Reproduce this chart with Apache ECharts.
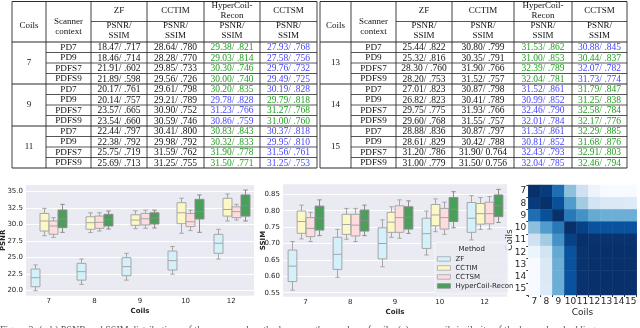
<!DOCTYPE html>
<html><head><meta charset="utf-8">
<script src="https://cdn.jsdelivr.net/npm/echarts@6/dist/echarts.min.js"></script>
<style>html,body{margin:0;padding:0;background:#fff}#c{width:640px;height:328px}</style>
</head><body><div id="c"></div><script>
// ---------- table data ----------
const scanners = ['PD7','PD9','PDFS7','PDFS9'];
const coilsLeft = ['7','9','11'];
const coilsRight = ['13','14','15'];
const zfLeft = ['18.47/ .717','18.46/ .714','21.91/ .602','21.89/ .598','20.17/ .761','20.14/ .757','23.57/ .665','23.54/ .660','22.44/ .797','22.38/ .792','25.75/ .719','25.69/ .713'];
const cctimLeft = ['28.64/ .780','28.28/ .770','29.85/ .733','29.56/ .726','29.61/ .798','29.21/ .789','30.90/ .752','30.59/ .746','30.41/ .800','29.98/ .792','31.59/ .762','31.25/ .755'];
const hyperLeft = ['29.38/ .821','29.03/ .814','30.30/ .746','30.00/ .740','30.20/ .835','29.78/ .828','31.23/ .766','30.86/ .759','30.83/ .843','30.32/ .833','31.90/ .778','31.50/ .771'];
const cctsmLeft = ['27.93/ .768','27.58/ .756','29.76/ .732','29.49/ .725','30.19/ .828','29.79/ .818','31.27/ .768','31.00/ .760','30.37/ .818','29.95/ .810','31.56/ .761','31.25/ .753'];
const hyperLeftRank = 'gggggbbbgggg';
const cctsmLeftRank = 'bbbbbgggbbbb';
const zfRight = ['25.44/ .822','25.32/ .816','28.30 / .760','28.20/ .753','27.01/ .823','26.82/ .823','29.75/ .775','29.60/ .768','28.88/ .836','28.61/ .829','31.20/ .786','31.00/ .779'];
const cctimRight = ['30.80/ .799','30.35/ .791','31.90/ .766','31.52/ .757','30.87/ .798','30.41/ .789','31.93/ .766','31.55/ .757','30.87/ .797','30.42/ .788','31.90/ 0.764','31.50/ 0.756'];
const hyperRight = ['31.53/ .862','31.00/ .853','32.39/ .789','32.04/ .781','31.52/ .861','30.99/ .852','32.46/ .790','32.01/ .784','31.35/ .861','30.81/ .852','32.43/ .793','32.04/ .785'];
const cctsmRight = ['30.88/ .845','30.44/ .837','32.07/ .782','31.73/ .774','31.79/ .847','31.25/ .838','32.58/ .784','32.17/ .776','32.29/ .885','31.68/ .876','32.91/ .803','32.46/ .794'];
const hyperRightRank = 'ggggbbbbbbbb';
const cctsmRightRank = 'bgbbgggggggg';

// ---------- box plot data: [min, q1, median, q3, max] per coil ----------
const boxCoils = ['7','8','9','10','12'];
const methods = ['ZF','CCTIM','CCTSM','HyperCoil-Recon'];
const psnrZF    = [[20.0,20.6,21.97,23.28,23.9],[20.96,21.6,22.88,24.14,24.8],[21.6,22.27,23.64,25.0,25.66],[22.5,23.13,24.55,26.0,26.7],[24.8,25.66,27.17,28.54,29.3]];
const psnrCCTIM = [[28.33,29.04,30.56,31.7,32.47],[28.8,29.3,30.3,31.2,31.8],[29.4,29.9,30.7,31.5,32.1],[28.7,30.15,31.8,33.33,34.0],[30.56,31.3,32.3,34.0,34.65]];
const psnrCCTSM = [[28.08,28.54,29.8,30.56,31.06],[29.04,29.44,30.35,31.3,31.8],[29.45,29.95,30.9,31.7,32.2],[29.1,29.7,30.45,31.7,32.2],[30.7,31.06,31.97,32.7,33.08]];
const psnrHyper = [[28.84,29.55,30.86,32.22,33.08],[29.34,29.8,30.76,31.57,32.07],[29.5,30.1,31.0,31.8,32.2],[28.84,30.86,31.97,33.84,34.5],[30.56,31.3,32.88,34.5,35.25]];
const ssimZF    = [[0.558,0.584,0.631,0.680,0.706],[0.597,0.621,0.667,0.719,0.743],[0.629,0.653,0.700,0.748,0.772],[0.665,0.685,0.730,0.777,0.799],[0.711,0.734,0.777,0.825,0.846]];
const ssimCCTIM = [[0.714,0.731,0.767,0.799,0.817],[0.713,0.728,0.758,0.789,0.807],[0.719,0.734,0.765,0.795,0.812],[0.736,0.754,0.787,0.819,0.836],[0.743,0.759,0.791,0.822,0.840]];
const ssimCCTSM = [[0.706,0.721,0.746,0.779,0.795],[0.706,0.723,0.756,0.789,0.807],[0.716,0.734,0.779,0.815,0.833],[0.728,0.744,0.779,0.807,0.826],[0.744,0.760,0.791,0.826,0.843]];
const ssimHyper = [[0.724,0.741,0.777,0.814,0.833],[0.724,0.738,0.770,0.802,0.817],[0.731,0.744,0.780,0.812,0.830],[0.748,0.767,0.804,0.840,0.858],[0.764,0.782,0.815,0.848,0.865]];
const psnrTicks = [20,22.5,25,27.5,30,32.5,35];
const ssimTicks = [0.55,0.6,0.65,0.7,0.75,0.8,0.85];

// ---------- heatmap data ----------
const heatCoils = ['7','8','9','10','11','12','13','14','15'];
const heatRow7  = [1.00,0.96,0.76,0.42,0.20,0.05,0.00,0.00,0.00];
const heatRow8  = [0.96,1.00,0.88,0.58,0.36,0.18,0.14,0.14,0.13];
const heatRow9  = [0.76,0.88,1.00,0.72,0.62,0.52,0.50,0.50,0.50];
const heatRow10 = [0.42,0.58,0.72,1.00,0.93,0.87,0.87,0.87,0.87];
const heatRow11 = [0.20,0.36,0.62,0.93,1.00,0.99,0.99,0.99,0.99];
const heatRow12 = [0.05,0.18,0.52,0.87,0.99,1.00,1.00,1.00,1.00];
const heatRow13 = [0.00,0.14,0.50,0.87,0.99,1.00,1.00,1.00,1.00];
const heatRow14 = [0.00,0.14,0.50,0.87,0.99,1.00,1.00,1.00,1.00];
const heatRow15 = [0.00,0.13,0.50,0.87,0.99,1.00,1.00,1.00,1.00];
const heatRows = [heatRow7,heatRow8,heatRow9,heatRow10,heatRow11,heatRow12,heatRow13,heatRow14,heatRow15];

// ---------- styles ----------
const boxFills = ['#d3f0fb','#fcf8c6','#fcdcdc','#4a9f5a'];
const boxEdges = ['#a6a6a6','#a6a6a6','#a6a6a6','#8c8c8c'];
const GREEN = '#1fa01f', BLUE = '#4545ff';
const SANS = 'DejaVu Sans', SERIF = 'Liberation Serif';

// ---------- table graphic ----------
function buildTable(cols, coils, zf, cctim, hyper, cctsm, hr, sr) {
  const els = [];
  const top = 1.5, hmid = 21.5, hbot = 42, rh = 10.5, bottom = hbot + 12 * rh;
  const L = cols[0], R = cols[6];
  const line = (x1, y1, x2, y2, w) => els.push({type:'line', silent:true, shape:{x1,y1,x2,y2}, style:{stroke:'#2b2b2b', lineWidth:w || 0.8}});
  const text = (t, x, y, size, color) => els.push({type:'text', silent:true, x, y, style:{text:t, fontSize:size, fontFamily:SERIF, fill:color || '#111', align:'center', verticalAlign:'middle'}});
  line(L, top, R, top, 1.1);
  line(cols[2], hmid, R, hmid);
  line(L, hbot, R, hbot, 1.1);
  for (let g = 0; g < 3; g++) {
    for (let r = 1; r < 4; r++) line(cols[1], hbot + g * 42 + r * rh, R, hbot + g * 42 + r * rh);
    if (g > 0) line(L, hbot + g * 42, R, hbot + g * 42, 1);
  }
  line(L, bottom, R, bottom, 1.1);
  cols.forEach(x => line(x, top, x, bottom, 0.9));
  const cx = i => (cols[i] + cols[i + 1]) / 2;
  text('Coils', cx(0), 26, 9);
  text('Scanner', cx(1), 21.7, 9);
  text('context', cx(1), 31.7, 9);
  text('ZF', cx(2), 11, 9);
  text('CCTIM', cx(3), 11, 9);
  text('HyperCoil-', cx(4), 6, 9);
  text('Recon', cx(4), 16, 9);
  text('CCTSM', cx(5), 11, 9);
  for (let i = 2; i < 6; i++) { text('PSNR/', cx(i), 25.5, 9); text('SSIM', cx(i), 36, 9); }
  for (let g = 0; g < 3; g++) {
    text(coils[g], cx(0), hbot + g * 42 + 21, 9);
    for (let r = 0; r < 4; r++) {
      const k = g * 4 + r, y = hbot + g * 42 + r * rh + rh / 2 + 0.3;
      text(scanners[r], cx(1), y, 9.2);
      text(zf[k], cx(2), y, 9.5);
      text(cctim[k], cx(3), y, 9.5);
      text(hyper[k], cx(4), y, 9.5, hr[k] === 'g' ? GREEN : BLUE);
      text(cctsm[k], cx(5), y, 9.5, sr[k] === 'g' ? GREEN : BLUE);
    }
  }
  return els;
}
const tableEls = [].concat(
  buildTable([12,46,91,147,204,260,317], coilsLeft, zfLeft, cctimLeft, hyperLeft, cctsmLeft, hyperLeftRank, cctsmLeftRank),
  buildTable([320,351,396,452,514,572,627], coilsRight, zfRight, cctimRight, hyperRight, cctsmRight, hyperRightRank, cctsmRightRank)
);

// ---------- box series ----------
function boxSeries(k, data, gi) {
  const fill = boxFills[k], edge = boxEdges[k];
  return {
    type:'custom', name:methods[k], xAxisIndex:gi, yAxisIndex:gi, z:2,
    itemStyle:{color:fill, borderColor:edge},
    data:data.map((d, i) => [i].concat(d)),
    renderItem(params, api) {
      const ci = api.value(0);
      const band = api.size([1, 0])[0];
      const w = band * 0.2 * 0.98;
      const off = (k - 1.5) * band * 0.2;
      const p = [1,2,3,4,5].map(j => api.coord([ci, api.value(j)]));
      const x = Math.round(p[0][0] + off) + 0.5;
      const ls = {stroke:edge, lineWidth:1};
      return {type:'group', children:[
        {type:'line', shape:{x1:x, y1:p[0][1], x2:x, y2:p[1][1]}, style:ls},
        {type:'line', shape:{x1:x, y1:p[3][1], x2:x, y2:p[4][1]}, style:ls},
        {type:'line', shape:{x1:x - w / 4, y1:p[0][1], x2:x + w / 4, y2:p[0][1]}, style:ls},
        {type:'line', shape:{x1:x - w / 4, y1:p[4][1], x2:x + w / 4, y2:p[4][1]}, style:ls},
        {type:'rect', shape:{x:x - w / 2, y:p[3][1], width:w, height:p[1][1] - p[3][1]}, style:{fill:fill, stroke:edge, lineWidth:1}},
        {type:'line', shape:{x1:x - w / 2, y1:p[2][1], x2:x + w / 2, y2:p[2][1]}, style:ls}
      ]};
    }
  };
}

const heatData = [];
heatRows.forEach((row, yi) => row.forEach((v, xi) => heatData.push([xi, yi, v])));

const labelStyle = {fontSize:7, fontFamily:SANS, color:'#262626'};
const nameStyle = {fontSize:7, fontFamily:SANS, fontWeight:'bold', color:'#262626'};

function boxXAxis(gi) {
  return {type:'category', gridIndex:gi, data:boxCoils, axisLine:{show:false}, axisTick:{show:false},
    splitLine:{show:false}, axisLabel:Object.assign({margin:2, interval:0}, labelStyle),
    name:'Coils', nameLocation:'middle', nameGap:11.5, nameTextStyle:nameStyle, nameMoveOverlap:false};
}
function boxYAxis(gi, min, max, ticks, digits, name, gap) {
  return {type:'value', gridIndex:gi, min, max, axisLine:{show:false},
    axisTick:{show:false, customValues:ticks},
    axisLabel:Object.assign({margin:3, customValues:ticks, formatter:v => Number(v).toFixed(digits)}, labelStyle),
    splitLine:{show:true, lineStyle:{color:'#ffffff', width:1}},
    name, nameLocation:'middle', nameGap:gap, nameTextStyle:nameStyle, nameMoveOverlap:false};
}
const heatLabel = {fontSize:9, fontFamily:SANS, color:'#262626', margin:2, interval:0, hideOverlap:false};

const option = {
  animation:false,
  backgroundColor:'#ffffff',
  grid:[
    {left:26, top:185, width:228, height:110.7, show:true, backgroundColor:'#eaeaf2', borderWidth:0, outerBoundsMode:'none', containLabel:false},
    {left:283, top:184.3, width:224, height:112.4, show:true, backgroundColor:'#eaeaf2', borderWidth:0, outerBoundsMode:'none', containLabel:false},
    {left:528.3, top:185, width:108.4, height:110, outerBoundsMode:'none', containLabel:false}
  ],
  xAxis:[
    boxXAxis(0), boxXAxis(1),
    {type:'category', gridIndex:2, data:heatCoils, axisLine:{show:false}, splitLine:{show:false},
      axisTick:{show:true, length:2, lineStyle:{color:'#333'}},
      axisLabel:heatLabel,
      name:'Coils', nameLocation:'middle', nameGap:13, nameMoveOverlap:false,
      nameTextStyle:{fontSize:9, fontFamily:SANS, color:'#262626'}}
  ],
  yAxis:[
    boxYAxis(0, 19.24, 36.01, psnrTicks, 1, 'PSNR', 19),
    boxYAxis(1, 0.5378, 0.8805, ssimTicks, 2, 'SSIM', 16),
    {type:'category', gridIndex:2, data:heatCoils, inverse:true, axisLine:{show:false}, splitLine:{show:false},
      axisTick:{show:true, length:2, lineStyle:{color:'#333'}},
      axisLabel:heatLabel,
      name:'Coils', nameLocation:'middle', nameGap:14, nameMoveOverlap:false,
      nameTextStyle:{fontSize:9, fontFamily:SANS, color:'#262626'}}
  ],
  visualMap:{show:false, min:0, max:1, seriesIndex:8, dimension:2,
    inRange:{color:['#f7fbff','#deebf7','#c6dbef','#9ecae1','#6baed6','#4292c6','#2171b5','#08519c','#08306b']}},
  legend:{
    data:methods.map((m, i) => ({name:m, itemStyle:{color:boxFills[i], borderColor:boxEdges[i], borderWidth:0.8}})),
    orient:'vertical', left:437, top:255.2, itemWidth:13, itemHeight:4.5, itemGap:1.5, icon:'rect', padding:0,
    selectedMode:false, z:6,
    textStyle:{fontSize:7, fontFamily:SANS, color:'#262626', lineHeight:7.5, padding:0}
  },
  graphic:{elements:[].concat(tableEls, [
    {type:'rect', z:5, silent:true, shape:{x:435, y:242, width:73, height:52, r:2}, style:{fill:'rgba(234,234,242,0.85)', stroke:'#f6f6fa', lineWidth:1}},
    {type:'text', z:6, silent:true, x:471.7, y:249, style:{text:'Method', fontSize:7, fontFamily:SANS, fill:'#262626', align:'center', verticalAlign:'middle'}},
    {type:'text', silent:true, x:0, y:325.8, style:{text:'Figure 3: (a-b) PSNR and SSIM distributions of the compared methods across the number of coils; (c) cross-coil similarity of the learned embeddings.', fontSize:10, fontFamily:SERIF, fill:'#555', align:'left', verticalAlign:'top'}}
  ])},
  series:[
    boxSeries(0, psnrZF, 0), boxSeries(1, psnrCCTIM, 0), boxSeries(2, psnrCCTSM, 0), boxSeries(3, psnrHyper, 0),
    boxSeries(0, ssimZF, 1), boxSeries(1, ssimCCTIM, 1), boxSeries(2, ssimCCTSM, 1), boxSeries(3, ssimHyper, 1),
    {type:'heatmap', xAxisIndex:2, yAxisIndex:2, data:heatData, itemStyle:{borderWidth:0}}
  ]
};
const chart = echarts.init(document.getElementById('c'), null, {renderer:'canvas', width:640, height:328});
chart.setOption(option);
</script></body></html>
